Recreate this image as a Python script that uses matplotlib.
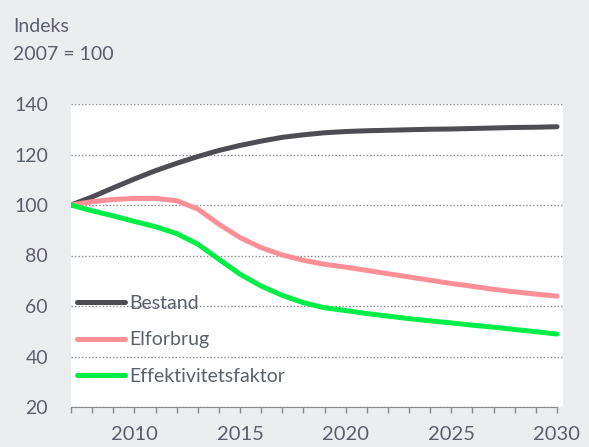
import matplotlib.pyplot as plt
from matplotlib.ticker import FixedLocator, NullFormatter

years = list(range(2007, 2031))

bestand = [100, 103.2, 106.8, 110.3, 113.6, 116.5, 119.2, 121.6, 123.6, 125.3,
           126.8, 127.8, 128.6, 129.1, 129.4, 129.6, 129.8, 130.0, 130.1, 130.3,
           130.5, 130.7, 130.8, 131.0]
elforbrug = [100, 101.3, 102.2, 102.6, 102.6, 101.7, 98.4, 92.4, 87.1, 83.1,
             80.2, 78.1, 76.5, 75.4, 74.1, 72.8, 71.5, 70.2, 68.9, 67.8,
             66.6, 65.6, 64.7, 63.9]
effektivitet = [100, 97.7, 95.7, 93.5, 91.4, 88.7, 84.5, 78.5, 72.6, 67.9,
                64.2, 61.3, 59.3, 58.2, 57.0, 56.0, 55.0, 54.1, 53.3, 52.4,
                51.6, 50.7, 49.8, 48.9]

series_names = ["Bestand", "Elforbrug", "Effektivitetsfaktor"]
series_colors = ["#4d4d53", "#ff8f97", "#00ee47"]

y_ticks = [20, 40, 60, 80, 100, 120, 140]
x_labels = [2010, 2015, 2020, 2025, 2030]

text_color = "#5a606b"
bg_color = "#ecedef"

plt.rcParams["font.family"] = ["Lato", "DejaVu Sans"]

W, H = 589, 447
fig = plt.figure(figsize=(W / 100, H / 100), dpi=100, facecolor=bg_color)

# axes placed in pixel coordinates of the reference
left, right, top, bottom = 71, 563, 104, 407
ax = fig.add_axes([left / W, 1 - bottom / H, (right - left) / W, (bottom - top) / H])
ax.set_facecolor("white")

for vals, name, col in zip([bestand, elforbrug, effektivitet], series_names, series_colors):
    ax.plot(years, vals, color=col, lw=3.6, label=name, solid_capstyle="round",
            solid_joinstyle="round", zorder=3)

px_per_year = (557 - 71) / 23
ax.set_xlim(2007, 2030 + (right - 557) / px_per_year)
ax.set_ylim(20, 140)

ax.yaxis.set_major_locator(FixedLocator(y_ticks))
ax.grid(axis="y", linestyle=(0, (1, 1.5)), color="#8a8a8a", lw=1.0, zorder=1)
ax.tick_params(axis="y", length=0, pad=16.5, labelsize=14, labelcolor=text_color)

ax.xaxis.set_major_locator(FixedLocator(x_labels))
ax.xaxis.set_minor_locator(FixedLocator(years))
ax.xaxis.set_minor_formatter(NullFormatter())
ax.tick_params(axis="x", which="both", direction="out", length=4.5, width=1,
               color="#8a8a8a", labelsize=14.5, labelcolor=text_color, pad=9)

for s in ["top", "right", "left"]:
    ax.spines[s].set_visible(False)
ax.spines["bottom"].set_color("#8a8a8a")
ax.spines["bottom"].set_bounds(2007, 2030)

fig.text(13 / W, 1 - 32 / H, "Indeks", fontsize=14, color=text_color, va="baseline")
fig.text(13 / W, 1 - 60 / H, "2007 = 100", fontsize=14, color=text_color, va="baseline")

leg = ax.legend(loc="upper left", bbox_to_anchor=(77 / W, 1 - 295 / H),
                bbox_transform=fig.transFigure, frameon=False, fontsize=14,
                handlelength=2.45, handletextpad=0.25, labelspacing=1.0,
                borderpad=0, borderaxespad=0)
for t in leg.get_texts():
    t.set_color(text_color)

plt.savefig("out.png", dpi=100, facecolor=bg_color)
